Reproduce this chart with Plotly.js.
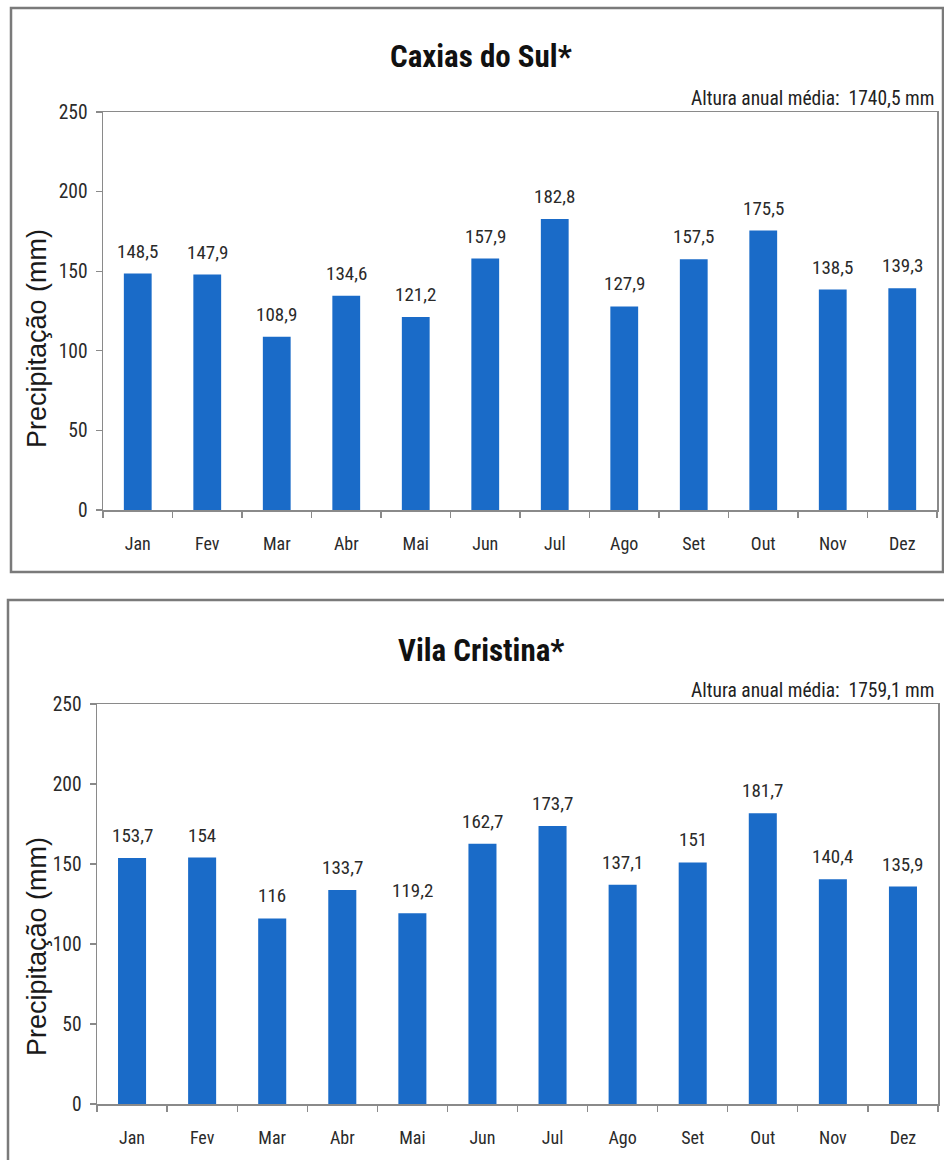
<!DOCTYPE html>
<html>
<head>
<meta charset="utf-8">
<script src="https://cdn.plot.ly/plotly-3.0.1.min.js"></script>
<style>
html,body{margin:0;padding:0;background:#fff;}
#chart{width:944px;height:1160px;}
</style>
</head>
<body>
<div id="chart"></div>
<script>
// ---- data ----
const months = ['Jan','Fev','Mar','Abr','Mai','Jun','Jul','Ago','Set','Out','Nov','Dez'];
const caxiasValues = [148.5,147.9,108.9,134.6,121.2,157.9,182.8,127.9,157.5,175.5,138.5,139.3];
const vilaValues = [153.7,154,116,133.7,119.2,162.7,173.7,137.1,151,181.7,140.4,135.9];
const titleTop = 'Caxias do Sul*';
const titleBottom = 'Vila Cristina*';
const noteTop = 'Altura anual média:  1740,5 mm';
const noteBottom = 'Altura anual média:  1759,1 mm';
const yTitle = 'Precipitação (mm)';
const yTicks = [0,50,100,150,200,250];

// ---- helpers ----
const W = 944, H = 1160;
const px = x => x / W;
const py = y => 1 - y / H;
const fmt = v => String(v).replace('.', ',');
const narrow = '"Roboto Condensed", "Liberation Sans Narrow", Lato, sans-serif';
const barColor = '#1a6bc8';
const lineGray = '#8a8a8a';

const traces = [
  {type:'bar', x: months, y: caxiasValues, xaxis:'x', yaxis:'y', width:0.4,
   marker:{color:barColor}, hoverinfo:'skip', showlegend:false},
  {type:'bar', x: months, y: vilaValues, xaxis:'x2', yaxis:'y2', width:0.4,
   marker:{color:barColor}, hoverinfo:'skip', showlegend:false}
];

function xAxis(domain, anchor){
  return {domain: domain, anchor: anchor, type:'category',
    showline:true, linecolor:lineGray, linewidth:1.5, mirror:true,
    ticks:'outside', tickson:'boundaries', ticklen:6, tickcolor:lineGray, tickwidth:1.2,
    ticklabelstandoff: 17,
    tickfont:{family:narrow, size:18, color:'#2a2a2a'},
    showgrid:false, zeroline:false, fixedrange:true};
}
function yAxis(domain, anchor){
  return {domain: domain, anchor: anchor, range:[0,250],
    tickvals: yTicks, ticktext: yTicks.map(String),
    showline:true, linecolor:lineGray, linewidth:1.5, mirror:true,
    ticks:'outside', ticklen:6, tickcolor:lineGray, tickwidth:1.2,
    ticklabelstandoff: 4,
    tickfont:{family:narrow, size:19.5, color:'#2a2a2a'},
    showgrid:false, zeroline:false, fixedrange:true};
}

const annotations = [];
function addPanel(vals, xr, yr, title, titleY, note, noteY, yTitleY){
  vals.forEach((v,i) => annotations.push({
    x: months[i], y: v, xref: xr, yref: yr, text: fmt(v), showarrow:false,
    yanchor:'bottom', yshift: 9,
    font:{family:narrow, size:19, color:'#2a2a2a'}
  }));
  annotations.push({x: px(481), y: py(titleY), xref:'paper', yref:'paper', text:'<b>'+title+'</b>',
    showarrow:false, xanchor:'center', yanchor:'middle',
    font:{family:narrow, size:31, color:'#111'}});
  annotations.push({x: px(936), y: py(noteY), xref:'paper', yref:'paper', text: note,
    showarrow:false, xanchor:'right', yanchor:'middle',
    font:{family:narrow, size:19.5, color:'#222'}});
  annotations.push({x: px(37), y: py(yTitleY), xref:'paper', yref:'paper', text: yTitle,
    showarrow:false, xanchor:'center', yanchor:'middle', textangle:-90,
    font:{family:'"Liberation Sans", Arial, sans-serif', size:27, color:'#1a1a1a'}});
}
addPanel(caxiasValues, 'x', 'y', titleTop, 57, noteTop, 98, 339);
addPanel(vilaValues, 'x2', 'y2', titleBottom, 650, noteBottom, 690, 947);

const shapes = [
  {type:'rect', xref:'paper', yref:'paper', x0:px(11), x1:px(943), y0:py(572), y1:py(8),
   line:{color:'#7a7a7a', width:2.5}, fillcolor:'rgba(0,0,0,0)', layer:'below'},
  {type:'rect', xref:'paper', yref:'paper', x0:px(8), x1:px(960), y0:py(1180), y1:py(600),
   line:{color:'#7a7a7a', width:2.5}, fillcolor:'rgba(0,0,0,0)', layer:'below'}
];

const layout = {
  width: W, height: H,
  margin:{l:0, r:0, t:0, b:0, pad:0},
  paper_bgcolor:'#fff', plot_bgcolor:'#fff',
  showlegend:false,
  xaxis: xAxis([px(103), px(937)], 'y'),
  yaxis: yAxis([py(510), py(112)], 'x'),
  xaxis2: xAxis([px(97), px(938)], 'y2'),
  yaxis2: yAxis([py(1104), py(704)], 'x2'),
  annotations: annotations,
  shapes: shapes
};

Plotly.newPlot('chart', traces, layout, {staticPlot:true, displayModeBar:false});
</script>
</body>
</html>
